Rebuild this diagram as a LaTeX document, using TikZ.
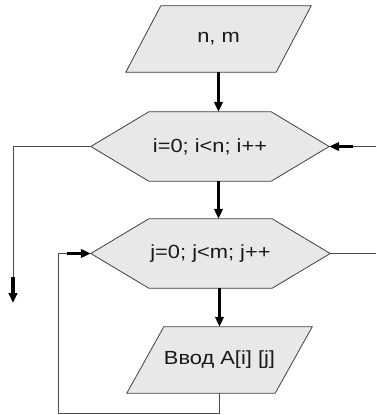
\documentclass[tikz,border=0pt]{standalone}
\usepackage{fontspec}
\setmainfont[FakeStretch=1.15]{Liberation Sans}
\usetikzlibrary{arrows.meta,backgrounds}

\tikzset{
  blk/.style={draw=black!75, fill=black!9, line width=0.8pt},
  txt/.style={inner sep=0pt, text=black!90, font=\fontsize{19}{23}\selectfont},
  ln/.style={draw=black!70, line width=0.9pt},
  arr/.style={line width=3.4pt, -{Triangle[length=10pt,width=8.5pt]}},
}

\begin{document}
\begin{tikzpicture}[x=1pt,y=-1pt]
\useasboundingbox (0,0) rectangle (376,415);
\node[txt, minimum width=150pt, minimum height=66pt](nm) at (218.5,39){n, m};
\node[txt, minimum width=238pt, minimum height=69pt](fori) at (210,146.5){i=0; i<n; i++};
\node[txt, minimum width=239pt, minimum height=69pt](forj) at (210.5,253.5){j=0; j<m; j++};
\node[txt, minimum width=148pt, minimum height=66pt](vvod) at (219.5,360){Ввод A[i] [j]};
\coordinate(exitA) at (13,303);
\coordinate(backA) at (376,146.5);
\coordinate(outB) at (376,253.5);
\coordinate(loopB) at (58,413);
\begin{scope}[on background layer]
\draw[blk] ([xshift=17.5pt]nm.north west) -- ([xshift=17.5pt]nm.north east) -- ([xshift=-17.5pt]nm.south east) -- ([xshift=-17.5pt]nm.south west) -- cycle;
\draw[blk] (fori.west) -- ([xshift=58pt]fori.north west) -- ([xshift=-58pt]fori.north east) -- (fori.east) -- ([xshift=-58pt]fori.south east) -- ([xshift=58pt]fori.south west) -- cycle;
\draw[blk] (forj.west) -- ([xshift=58pt]forj.north west) -- ([xshift=-58pt]forj.north east) -- (forj.east) -- ([xshift=-58pt]forj.south east) -- ([xshift=58pt]forj.south west) -- cycle;
\draw[blk] ([xshift=18.5pt]vvod.north west) -- ([xshift=18.5pt]vvod.north east) -- ([xshift=-18.5pt]vvod.south east) -- ([xshift=-18.5pt]vvod.south west) -- cycle;
\end{scope}
\draw[arr](nm.south) -- (nm.south |- fori.north);
\draw[arr](fori.south -| nm.south) -- (forj.north -| nm.south);
\draw[arr](forj.south -| vvod.north) -- (vvod.north);
\draw[ln](fori.west) -| ([yshift=26pt]exitA);
\draw[arr]([yshift=26pt]exitA) -- (exitA);
\draw[ln](backA) -- ([xshift=22pt]fori.east);
\draw[arr]([xshift=24pt]fori.east) -- (fori.east);
\draw[ln](forj.east) -- (outB);
\draw[ln](vvod.south) |- (loopB) |- ([xshift=-24pt]forj.west);
\draw[arr]([xshift=-24pt]forj.west) -- (forj.west);
\end{tikzpicture}
\end{document}
